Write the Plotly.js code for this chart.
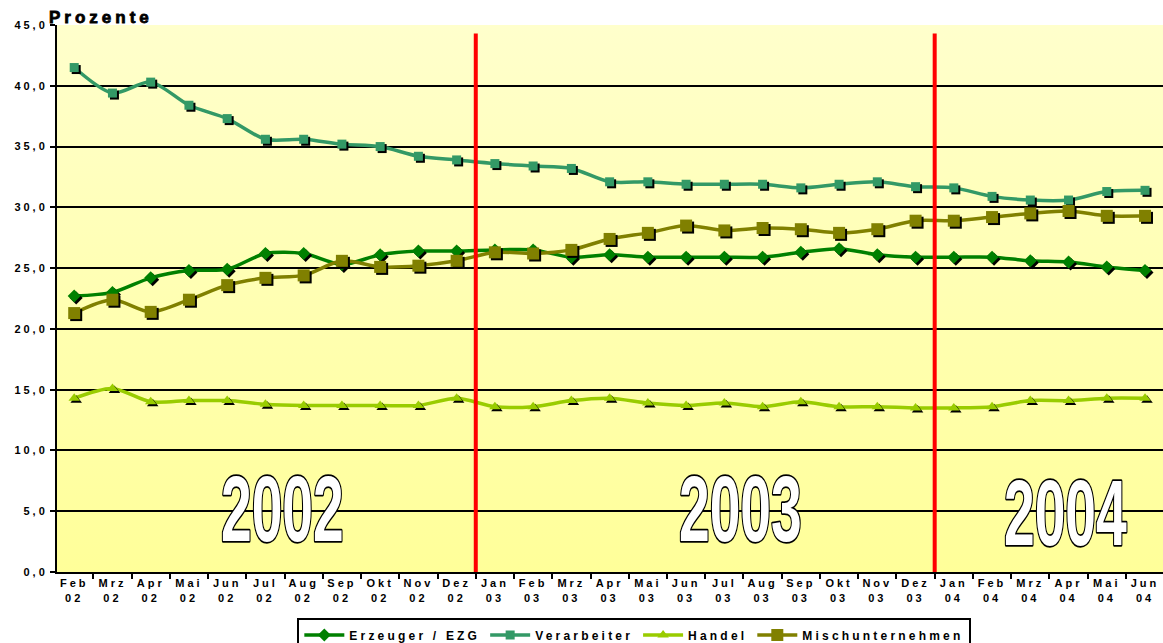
<!DOCTYPE html>
<html>
<head>
<meta charset="utf-8">
<script src="https://cdn.plot.ly/plotly-3.0.1.min.js"></script>
<style>
  html, body { margin: 0; padding: 0; background: #ffffff; }
  #chart { width: 1163px; height: 643px; }
  .xtick text, .ytick text { letter-spacing: 3px; }
  .legendtext { letter-spacing: 3.2px; }
  .scatterlayer .trace .points path { filter: drop-shadow(2px 2px 0px #000000); }
  g.annotation[data-index="0"] text { letter-spacing: 4px; stroke: #000000; stroke-width: 0.8px; }
  g.annotation[data-index="1"] text,
  g.annotation[data-index="2"] text,
  g.annotation[data-index="3"] text {
    stroke: #000000; stroke-width: 3.5px; paint-order: stroke; stroke-linejoin: round;
    transform-box: fill-box; transform-origin: center; transform: scaleX(0.6);
  }
</style>
</head>
<body>
<div id="chart"></div>
<script>
// ---- data ----
const months = ["Feb","Mrz","Apr","Mai","Jun","Jul","Aug","Sep","Okt","Nov","Dez",
                "Jan","Feb","Mrz","Apr","Mai","Jun","Jul","Aug","Sep","Okt","Nov","Dez",
                "Jan","Feb","Mrz","Apr","Mai","Jun"];
const yearsShort = ["02","02","02","02","02","02","02","02","02","02","02",
                    "03","03","03","03","03","03","03","03","03","03","03","03",
                    "04","04","04","04","04","04"];
const seriesNames = ["Erzeuger / EZG", "Verarbeiter", "Handel", "Mischunternehmen"];
const erzeuger = [22.7, 23.0, 24.2, 24.8, 24.9, 26.2, 26.2, 25.3, 26.1, 26.4, 26.4,
                  26.5, 26.5, 25.9, 26.1, 25.9, 25.9, 25.9, 25.9, 26.3, 26.6, 26.1, 25.9,
                  25.9, 25.9, 25.6, 25.5, 25.1, 24.8];
const verarbeiter = [41.5, 39.4, 40.3, 38.4, 37.3, 35.6, 35.6, 35.2, 35.0, 34.2, 33.9,
                     33.6, 33.4, 33.2, 32.1, 32.1, 31.9, 31.9, 31.9, 31.6, 31.9, 32.1, 31.7,
                     31.6, 30.9, 30.6, 30.6, 31.3, 31.4];
const handel = [14.3, 15.1, 14.0, 14.1, 14.1, 13.8, 13.7, 13.7, 13.7, 13.7, 14.3,
                13.6, 13.6, 14.1, 14.3, 13.9, 13.7, 13.9, 13.6, 14.0, 13.6, 13.6, 13.5,
                13.5, 13.6, 14.1, 14.1, 14.3, 14.3];
const misch = [21.3, 22.4, 21.4, 22.4, 23.6, 24.2, 24.4, 25.6, 25.1, 25.2, 25.6,
               26.3, 26.2, 26.5, 27.4, 27.9, 28.5, 28.1, 28.3, 28.2, 27.9, 28.2, 28.9,
               28.9, 29.2, 29.5, 29.7, 29.3, 29.3];
const yearLabels = ["2002", "2003", "2004"];
const yAxisTitle = "Prozente";

// ---- build ----
const cats = months.map((m, i) => m + "<br>" + yearsShort[i]);

const styles = [
  {color: "#008000", symbol: "diamond", size: 10},
  {color: "#339966", symbol: "square", size: 9},
  {color: "#99CC00", symbol: "triangle-up", size: 10},
  {color: "#808000", symbol: "square", size: 12}
];
const values = [erzeuger, verarbeiter, handel, misch];

const traces = values.map((v, i) => ({
  type: "scatter",
  mode: "lines+markers",
  name: seriesNames[i],
  x: cats,
  y: v,
  line: {color: styles[i].color, width: 3.5, shape: "spline", smoothing: 0.8},
  marker: {color: styles[i].color, symbol: styles[i].symbol, size: styles[i].size,
           line: {width: 0}},
  hoverinfo: "x+y+name"
}));

const gradSvg = '<svg xmlns="http://www.w3.org/2000/svg" width="10" height="100" preserveAspectRatio="none">' +
  '<defs><linearGradient id="g" x1="0" y1="0" x2="0" y2="1">' +
  '<stop offset="0" stop-color="#FFFFCC"/><stop offset="1" stop-color="#FFFF99"/>' +
  '</linearGradient></defs><rect width="10" height="100" fill="url(#g)"/></svg>';
const gradUri = "data:image/svg+xml;base64," + btoa(gradSvg);

const boundaryLines = [10.5, 22.5].map(xv => ({
  type: "line", xref: "x", yref: "y", x0: xv, x1: xv, y0: 0, y1: 44.3,
  line: {color: "#FF0000", width: 4}, layer: "above"
}));

const yearPos = [[5.44, 5.2], [17.41, 5.15], [25.93, 4.85]];

const annotations = [
  {text: yAxisTitle, xref: "paper", yref: "paper", x: 0.005, y: 1, xanchor: "left",
   yanchor: "bottom", yshift: -4, showarrow: false,
   font: {family: "Liberation Sans, Arial, sans-serif", size: 17, color: "#000000", weight: "bold"}}
].concat(yearLabels.map((t, i) => ({
  text: t, xref: "x", yref: "y", x: yearPos[i][0], y: yearPos[i][1],
  xanchor: "center", yanchor: "middle", showarrow: false,
  font: {family: "Liberation Sans, Arial, sans-serif", size: 92, color: "#FFFFFF", weight: "bold"}
})));

const layout = {
  width: 1163, height: 643,
  margin: {l: 57, r: 0, t: 25, b: 71, autoexpand: false},
  paper_bgcolor: "#FFFFFF",
  plot_bgcolor: "rgba(0,0,0,0)",
  font: {family: "Liberation Sans, Arial, sans-serif", color: "#000000"},
  showlegend: true,
  legend: {
    orientation: "h", x: 0.522, xanchor: "center", y: -0.085, yanchor: "top",
    bgcolor: "#FFFFFF", bordercolor: "#000000", borderwidth: 2,
    font: {size: 12, weight: "bold", color: "#000000"},
    itemwidth: 40, tracegroupgap: 0
  },
  xaxis: {
    type: "category", categoryorder: "array", categoryarray: cats,
    range: [-0.45, 28.47], tickmode: "linear", tick0: 0, dtick: 1,
    tickson: "boundaries", ticks: "outside", ticklen: 5, tickwidth: 1.5, tickcolor: "#000000",
    tickangle: 0, showgrid: false, zeroline: false,
    showline: true, linecolor: "#000000", linewidth: 2,
    tickfont: {size: 11, weight: "bold", color: "#000000"}
  },
  yaxis: {
    range: [0, 45], tickmode: "linear", tick0: 0, dtick: 5,
    tickformat: ".1f", ticks: "outside", ticklen: 5, tickwidth: 1.5, tickcolor: "#000000",
    showgrid: true, gridcolor: "#000000", gridwidth: 1.5, zeroline: false,
    showline: true, linecolor: "#000000", linewidth: 2,
    tickfont: {size: 11, weight: "bold", color: "#000000"}
  },
  separators: ",.",
  images: [{source: gradUri, xref: "paper", yref: "paper", x: 0, y: 1, sizex: 1, sizey: 1,
            sizing: "stretch", xanchor: "left", yanchor: "top", layer: "below"}],
  shapes: boundaryLines,
  annotations: annotations
};

Plotly.newPlot("chart", traces, layout, {displayModeBar: false, staticPlot: false});
</script>
</body>
</html>
